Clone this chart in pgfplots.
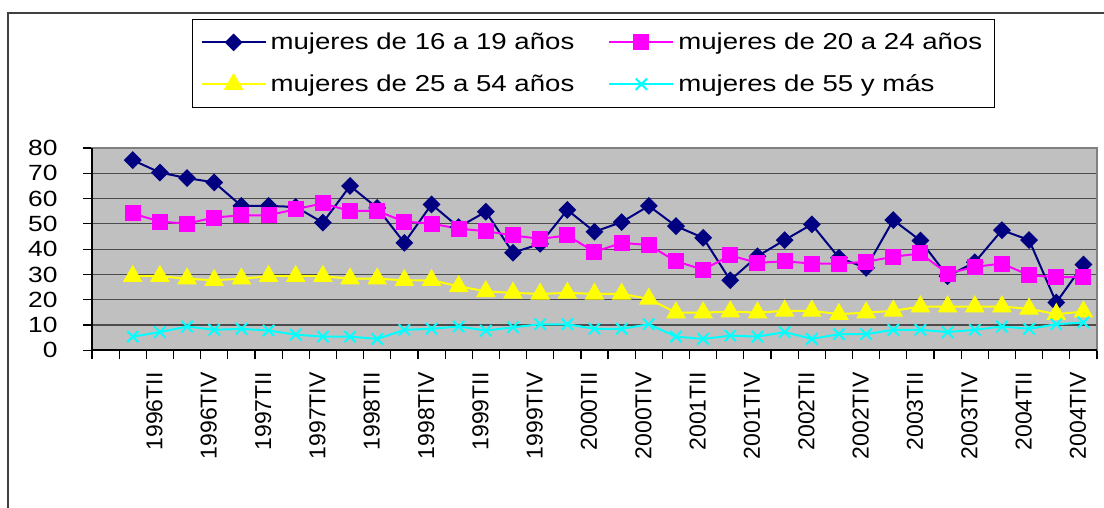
\documentclass[border=0pt]{standalone}
\usepackage{fontspec}
\setmainfont{Liberation Sans}[FakeStretch=1.2]
\newfontfamily\xlabfont{Liberation Sans}
\newcommand\xl[1]{{\xlabfont\fontsize{11.5}{13}\selectfont #1}}
\usepackage{pgfplots}
\pgfplotsset{compat=1.18}
\definecolor{navyb}{HTML}{000080}
\definecolor{magen}{HTML}{FF00FF}
\definecolor{yell}{HTML}{FFFF00}
\definecolor{cyanc}{HTML}{00FFFF}
\definecolor{plotbg}{HTML}{C0C0C0}
\definecolor{borderg}{HTML}{808080}

\pgfplotstableread{
x a b c d
1 75.2 54.1 29.3 5.4
2 70.3 50.9 29.3 7.2
3 68.1 50.1 28.3 9.4
4 66.4 52.5 27.7 8.1
5 57.1 53.4 28.3 8.5
6 57.1 53.4 29.3 7.8
7 56.7 55.8 29.3 6.2
8 50.5 58.1 29.3 5.4
9 65.0 55.1 28.3 5.4
10 56.3 55.1 28.3 4.5
11 42.5 50.9 27.7 8.1
12 57.7 50.1 27.7 8.5
13 48.7 48.1 25.3 9.4
14 54.8 47.1 23.3 7.8
15 38.6 45.4 22.7 9.1
16 42.1 44.1 22.3 10.3
17 55.5 45.4 22.7 10.3
18 46.9 38.9 22.3 8.5
19 50.7 42.5 22.3 8.5
20 57.1 41.6 20.3 10.3
21 49.1 35.2 14.9 5.4
22 44.5 31.9 14.9 4.5
23 27.7 37.5 15.3 5.8
24 37.2 34.6 14.9 5.4
25 43.6 35.2 15.6 7.2
26 49.8 34.3 15.6 4.5
27 36.6 34.3 14.3 6.4
28 32.6 35.0 14.9 6.4
29 51.5 37.0 15.6 8.1
30 43.4 38.3 17.3 8.1
31 29.3 30.3 17.3 7.2
32 34.8 33.0 17.3 8.1
33 47.5 34.3 17.3 9.4
34 43.6 29.7 16.4 8.5
35 18.9 28.9 14.3 10.3
36 33.9 28.9 15.3 11.0
}\datatable

\begin{document}
\begin{tikzpicture}
\useasboundingbox (0,0) rectangle (552pt,254pt);
\draw[line width=1.2pt, black!75] (4pt,0) -- (4pt,247.5pt) -- (552pt,247.5pt);
\begin{axis}[
  at={(46pt,78.85pt)}, anchor=south west,
  scale only axis, width=502.5pt, height=101.15pt,
  xmin=-0.5, xmax=36.5, ymin=0, ymax=80,
  ytick={0,10,...,80},
  xtick={-0.5,0.5,...,36.5}, xticklabels={},
  extra x ticks={1.8,3.8,...,35.8},
  extra x tick labels={\xl{1996TII},\xl{1996TIV},\xl{1997TII},\xl{1997TIV},\xl{1998TII},\xl{1998TIV},\xl{1999TII},\xl{1999TIV},\xl{2000TII},\xl{2000TIV},\xl{2001TII},\xl{2001TIV},\xl{2002TII},\xl{2002TIV},\xl{2003TII},\xl{2003TIV},\xl{2004TII},\xl{2004TIV}},
  extra x tick style={major tick length=0pt, grid=none},
  xticklabel style={yshift=-10.85pt, rotate=90, anchor=east, inner sep=0pt},
  tick pos=left, tick align=outside, major tick length=4.5pt,
  tick style={black, line width=0.6pt},
  ymajorgrids, major grid style={draw=black!70, line width=0.6pt},
  axis line style={draw=borderg, line width=1pt},
  axis background/.style={fill=plotbg},
  /pgf/number format/assume math mode=true,
  yticklabel style={font=\fontsize{11}{12}\selectfont, anchor=east, inner sep=0pt, xshift=-12.5pt},
  clip=false,
  legend columns=2,
  legend image code/.code={\draw[mark repeat=2,mark phase=2,#1] plot coordinates {(0pt,0pt) (16pt,0pt) (32pt,0pt)};},
  legend style={at={(0.0995,1.6377)}, anchor=north west, draw=black, line width=0.6pt, fill=white,
    inner xsep=4pt, inner ysep=4.5pt, row sep=7pt,
    /tikz/every even column/.append style={column sep=15pt},
    font=\fontsize{11.5}{13}\selectfont, cells={anchor=west}},
]
\addplot[color=navyb, line width=1pt, mark=square*, mark size=2.65pt, mark options={rotate=45, solid, fill=navyb}] table[x=x,y=a]{\datatable};
\addlegendentry{mujeres de 16 a 19 años}
\addplot[color=magen, line width=1pt, mark=square*, mark size=3.5pt, mark options={solid, fill=magen}] table[x=x,y=b]{\datatable};
\addlegendentry{mujeres de 20 a 24 años}
\addplot[color=yell, line width=1pt, mark=triangle*, mark size=4.7pt, mark options={solid, fill=yell}] table[x=x,y=c]{\datatable};
\addlegendentry{mujeres de 25 a 54 años}
\addplot[color=cyanc, line width=1pt, mark=x, mark size=4pt, mark options={solid, line width=1pt}] table[x=x,y=d]{\datatable};
\addlegendentry{mujeres de 55 y más}
\draw[black, line width=1pt] (axis cs:-0.5,80) -- (axis cs:-0.5,0) -- (axis cs:36.5,0);
\end{axis}
\end{tikzpicture}
\end{document}
